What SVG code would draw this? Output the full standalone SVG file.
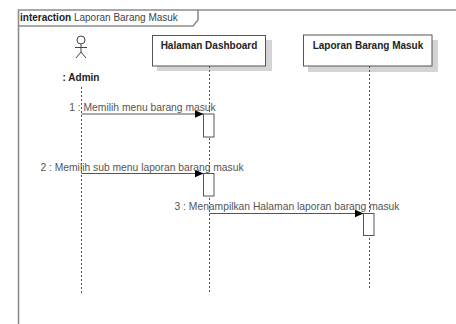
<svg xmlns="http://www.w3.org/2000/svg" width="456" height="324" viewBox="0 0 456 324">
<defs>
<style>
text{font-family:"Liberation Sans",Arial,sans-serif;font-size:10px;}
.b{font-weight:bold;fill:#222;}
.lbl{fill:#555;font-size:10.3px;}
.frame{fill:none;stroke:#8c8c8c;stroke-width:1.6;}
.box{fill:#fff;stroke:#555;stroke-width:1;}
.shadow{fill:#d4d4d4;}
.life{stroke:#555;stroke-width:1;stroke-dasharray:2,2;fill:none;}
.act{fill:#fff;stroke:#555;stroke-width:1;}
.msg{stroke:#555;stroke-width:1;fill:none;}
.actor{fill:none;stroke:#444;stroke-width:1;}
</style>
<marker id="arr" markerWidth="10" markerHeight="8" refX="9" refY="4" orient="auto" markerUnits="userSpaceOnUse">
<path d="M0,0 L9,4 L0,8 Z" fill="#000"/>
</marker>
</defs>
<rect width="456" height="324" fill="#fff"/>
<g id="frame">
<path class="frame" d="M18.5,324 V10 H456"/>
<path class="frame" d="M18.5,26 H193 L198,20 V10"/>
<text x="20" y="21"><tspan class="b">interaction</tspan><tspan fill="#444"> Laporan Barang Masuk</tspan></text>
</g>
<g id="admin">
<circle class="actor" cx="81" cy="40" r="4"/>
<path class="actor" d="M81,44 V52 M75,47.5 H87 M81,52 L76,58 M81,52 L86,58"/>
<text class="b" x="81" y="81" text-anchor="middle">: Admin</text>
<line class="life" x1="81.5" y1="87" x2="81.5" y2="294"/>
</g>
<g id="dashboard">
<rect class="shadow" x="157" y="40" width="115" height="31"/>
<rect class="box" x="152.5" y="35.5" width="113" height="30.5"/>
<text class="b" x="209" y="49" text-anchor="middle">Halaman Dashboard</text>
<line class="life" x1="209.5" y1="66" x2="209.5" y2="294"/>
<rect class="act" x="203.5" y="114" width="10.5" height="23"/>
<rect class="act" x="203.5" y="173.5" width="10.5" height="22.5"/>
</g>
<g id="laporan">
<rect class="shadow" x="308" y="40" width="130" height="32"/>
<rect class="box" x="303.5" y="35" width="128.5" height="31"/>
<text class="b" x="368" y="49" text-anchor="middle">Laporan Barang Masuk</text>
<line class="life" x1="369.5" y1="66" x2="369.5" y2="289"/>
<rect class="act" x="363.5" y="213.5" width="10.5" height="22"/>
</g>
<g id="connectors">
<line class="msg" x1="81.5" y1="114" x2="203.5" y2="114" marker-end="url(#arr)"/>
<text class="lbl" x="142.5" y="111" text-anchor="middle">1 : Memilih menu barang masuk</text>
<line class="msg" x1="81.5" y1="173.5" x2="203.5" y2="173.5" marker-end="url(#arr)"/>
<text class="lbl" x="142" y="171" text-anchor="middle">2 : Memilih sub menu laporan barang masuk</text>
<line class="msg" x1="209.5" y1="213.5" x2="363.5" y2="213.5" marker-end="url(#arr)"/>
<text class="lbl" x="287" y="210" text-anchor="middle">3 : Menampilkan Halaman laporan barang masuk</text>
</g>
</svg>
